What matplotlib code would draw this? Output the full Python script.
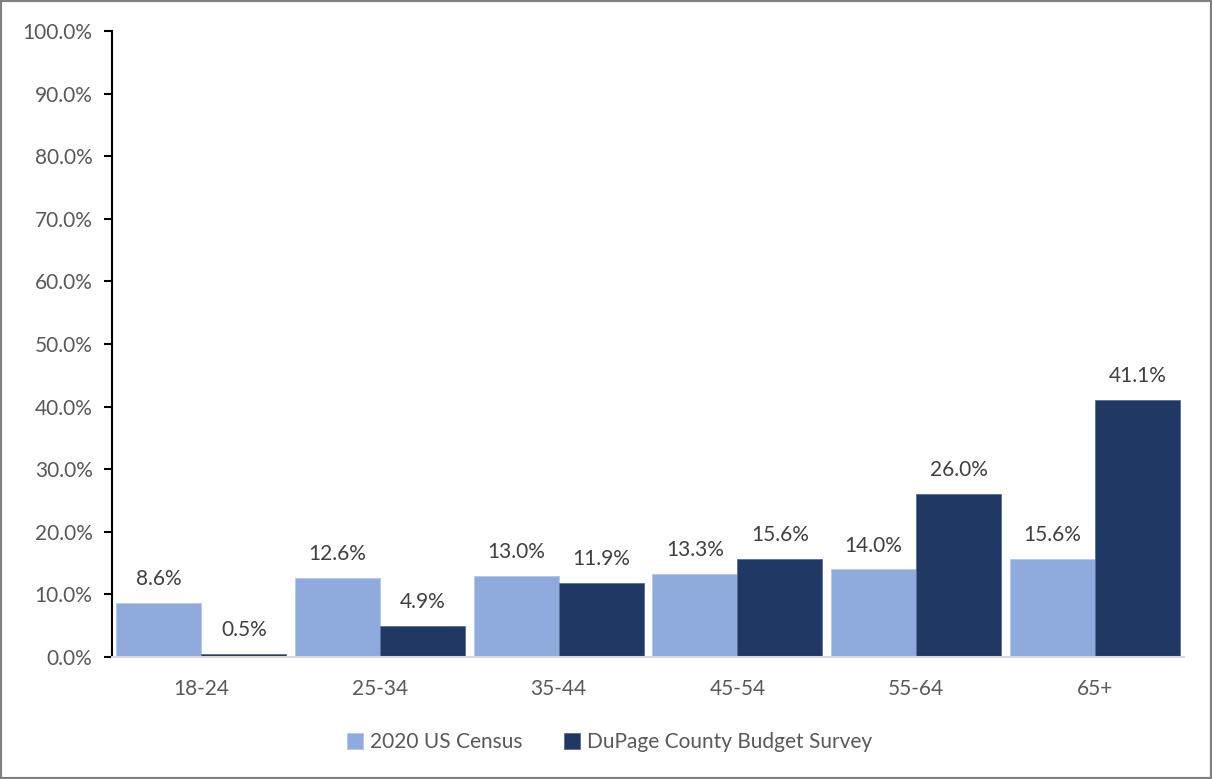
import matplotlib.pyplot as plt
import numpy as np
from matplotlib.patches import Rectangle

plt.rcParams["font.family"] = ["Lato", "DejaVu Sans"]

age_groups = ["18-24", "25-34", "35-44", "45-54", "55-64", "65+"]
census = [8.6, 12.6, 13.0, 13.3, 14.0, 15.6]
survey = [0.5, 4.9, 11.9, 15.6, 26.0, 41.1]
series_names = ["2020 US Census", "DuPage County Budget Survey"]

LIGHT = "#8FAADC"
DARK = "#203864"
TEXT = "#595959"
LABEL = "#404040"
FS = 15

fig = plt.figure(figsize=(12.12, 7.79), dpi=100)
ax = fig.add_axes([0.0924, 0.1566, 0.8846, 0.8034])

x = np.arange(len(age_groups))
w = 0.476
b1 = ax.bar(x - w / 2, census, w, color=LIGHT, edgecolor="#B4C7E7", linewidth=0.6, label=series_names[0])
b2 = ax.bar(x + w / 2, survey, w, color=DARK, edgecolor="#5A6E92", linewidth=0.6, label=series_names[1])

for bars, vals in ((b1, census), (b2, survey)):
    for rect, v in zip(bars, vals):
        ax.annotate(f"{v:.1f}%", (rect.get_x() + rect.get_width() / 2, rect.get_height()),
                    xytext=(0, 10), textcoords="offset points",
                    ha="center", va="bottom", fontsize=FS, color=LABEL)

ax.set_xlim(-0.5, len(age_groups) - 0.5)
ax.set_ylim(0, 100)
ax.set_yticks(np.arange(0, 101, 10))
ax.set_yticklabels([f"{t:.1f}%" for t in np.arange(0, 101, 10)])
ax.set_xticks(x)
ax.set_xticklabels(age_groups)

for side in ("top", "right"):
    ax.spines[side].set_visible(False)
ax.spines["left"].set_color("black")
ax.spines["left"].set_linewidth(1.5)
ax.spines["bottom"].set_color("#D9D9D9")
ax.spines["bottom"].set_linewidth(1.5)

ax.tick_params(axis="y", direction="out", length=6, width=1.5, color="black",
               labelsize=FS, labelcolor=TEXT, pad=8)
ax.tick_params(axis="x", length=0, labelsize=FS, labelcolor=TEXT, pad=16)

leg = fig.legend(handles=[b1, b2], loc="center", bbox_to_anchor=(0.503, 0.047), ncol=2,
                 frameon=False, fontsize=FS, handlelength=0.75, handleheight=0.75,
                 handletextpad=0.35, columnspacing=2.0)
for t in leg.get_texts():
    t.set_color(TEXT)

fig.patches.append(Rectangle((0, 0), 1, 1, transform=fig.transFigure, fill=False,
                             edgecolor="#7F7F7F", linewidth=3, zorder=10))

fig.savefig("out.png", dpi=100)
